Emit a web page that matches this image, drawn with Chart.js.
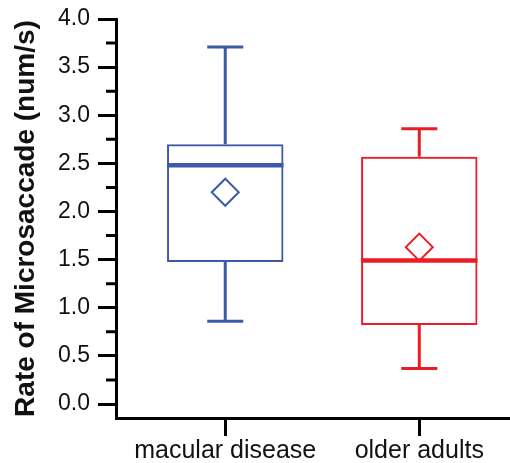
<!DOCTYPE html>
<html>
<head>
<meta charset="utf-8">
<script src="https://cdn.jsdelivr.net/npm/chart.js@4/dist/chart.umd.min.js"></script>
<style>
  html, body { margin: 0; padding: 0; background: #fff; overflow: hidden; }
  canvas { display: block; }
</style>
</head>
<body>
<canvas id="chart" width="510" height="463"></canvas>
<script>
// box plot summary per group
const groups = ['macular disease', 'older adults'];
const groupX = [1, 2];
const whiskerLow = [0.86, 0.37];
const q1 = [1.475, 0.82];
const median = [2.48, 1.49];
const q3 = [2.70, 2.57];
const whiskerHigh = [3.71, 2.86];
const means = [2.20, 1.63];
const yTicks = [0.0, 0.5, 1.0, 1.5, 2.0, 2.5, 3.0, 3.5, 4.0];
const colors = ['#3d59a8', '#ed1c24'];

const font = "'Liberation Sans', Arial, Helvetica, sans-serif";

// whiskers, caps, medians and minor y ticks, placed with the chart's scales
const boxExtras = {
  id: 'boxExtras',
  beforeDatasetsDraw(chart) {
    const ctx = chart.ctx;
    const xs = chart.scales.x, ys = chart.scales.y;
    const bars = chart.getDatasetMeta(0).data;
    ctx.save();
    groupX.forEach((gx, i) => {
      const cx = xs.getPixelForValue(gx);
      const half = bars[i].width / 2;
      ctx.strokeStyle = colors[i];
      ctx.lineWidth = 3;
      ctx.beginPath();
      ctx.moveTo(cx, ys.getPixelForValue(q3[i]));
      ctx.lineTo(cx, ys.getPixelForValue(whiskerHigh[i]));
      ctx.moveTo(cx, ys.getPixelForValue(q1[i]));
      ctx.lineTo(cx, ys.getPixelForValue(whiskerLow[i]));
      ctx.moveTo(cx - 18, ys.getPixelForValue(whiskerHigh[i]));
      ctx.lineTo(cx + 18, ys.getPixelForValue(whiskerHigh[i]));
      ctx.moveTo(cx - 18, ys.getPixelForValue(whiskerLow[i]));
      ctx.lineTo(cx + 18, ys.getPixelForValue(whiskerLow[i]));
      ctx.stroke();
      ctx.lineWidth = 4.5;
      ctx.beginPath();
      ctx.moveTo(cx - half, ys.getPixelForValue(median[i]));
      ctx.lineTo(cx + half, ys.getPixelForValue(median[i]));
      ctx.stroke();
    });
    ctx.restore();
  },
  afterDraw(chart) {
    const ctx = chart.ctx;
    const ys = chart.scales.y;
    const left = chart.chartArea.left;
    ctx.save();
    ctx.strokeStyle = '#000';
    ctx.lineWidth = 3;
    ctx.beginPath();
    for (let i = 0; i < yTicks.length - 1; i++) {
      const y = ys.getPixelForValue((yTicks[i] + yTicks[i + 1]) / 2);
      ctx.moveTo(left - 10, y);
      ctx.lineTo(left, y);
    }
    ctx.stroke();
    ctx.restore();
  }
};

const chart = new Chart(document.getElementById('chart'), {
  type: 'bar',
  data: {
    datasets: [{
      label: 'box',
      data: groupX.map((x, i) => ({ x: x, y: [q1[i], q3[i]] })),
      backgroundColor: 'rgba(0,0,0,0)',
      borderColor: colors,
      borderWidth: 2,
      borderSkipped: false,
      barPercentage: 0.6,
      categoryPercentage: 1
    }, {
      type: 'scatter',
      label: 'mean',
      data: groupX.map((x, i) => ({ x: x, y: means[i] })),
      pointStyle: 'rectRot',
      radius: 13.5,
      borderWidth: 2,
      borderColor: colors,
      backgroundColor: 'rgba(0,0,0,0)'
    }]
  },
  options: {
    responsive: false,
    animation: false,
    devicePixelRatio: 1,
    layout: { autoPadding: false, padding: { top: 19, left: 0, right: 0, bottom: 0 } },
    plugins: { legend: { display: false }, tooltip: { enabled: false } },
    scales: {
      x: {
        type: 'linear',
        offset: false,
        min: 0.437,
        max: 2.4675,
        afterBuildTicks: s => { s.ticks = groupX.map(v => ({ value: v })); },
        afterFit: s => { s.height = 45; s.paddingLeft = 0; s.paddingRight = 0; },
        ticks: {
          callback: v => groups[groupX.indexOf(v)],
          font: { family: font, size: 25 },
          color: '#111',
          padding: 0,
          maxRotation: 0,
          autoSkip: false
        },
        grid: { offset: false, drawOnChartArea: false, tickLength: 18, lineWidth: 3, color: '#000' },
        border: { color: '#000', width: 3 }
      },
      y: {
        min: -0.145,
        max: 4.0,
        afterBuildTicks: s => { s.ticks = yTicks.map(v => ({ value: v })); },
        afterFit: s => { s.width = 116; s.paddingTop = 0; s.paddingBottom = 0; },
        ticks: {
          callback: v => v.toFixed(1),
          font: { family: font, size: 23 },
          color: '#111',
          padding: 8
        },
        grid: { drawOnChartArea: false, tickLength: 18, lineWidth: 3, color: '#000' },
        border: { color: '#000', width: 3 },
        title: {
          display: true,
          text: 'Rate of Microsaccade (num/s)',
          font: { family: font, size: 28, weight: 'bold' },
          color: '#111',
          padding: { top: 9, bottom: 0 }
        }
      }
    }
  },
  plugins: [boxExtras]
});
</script>
</body>
</html>
